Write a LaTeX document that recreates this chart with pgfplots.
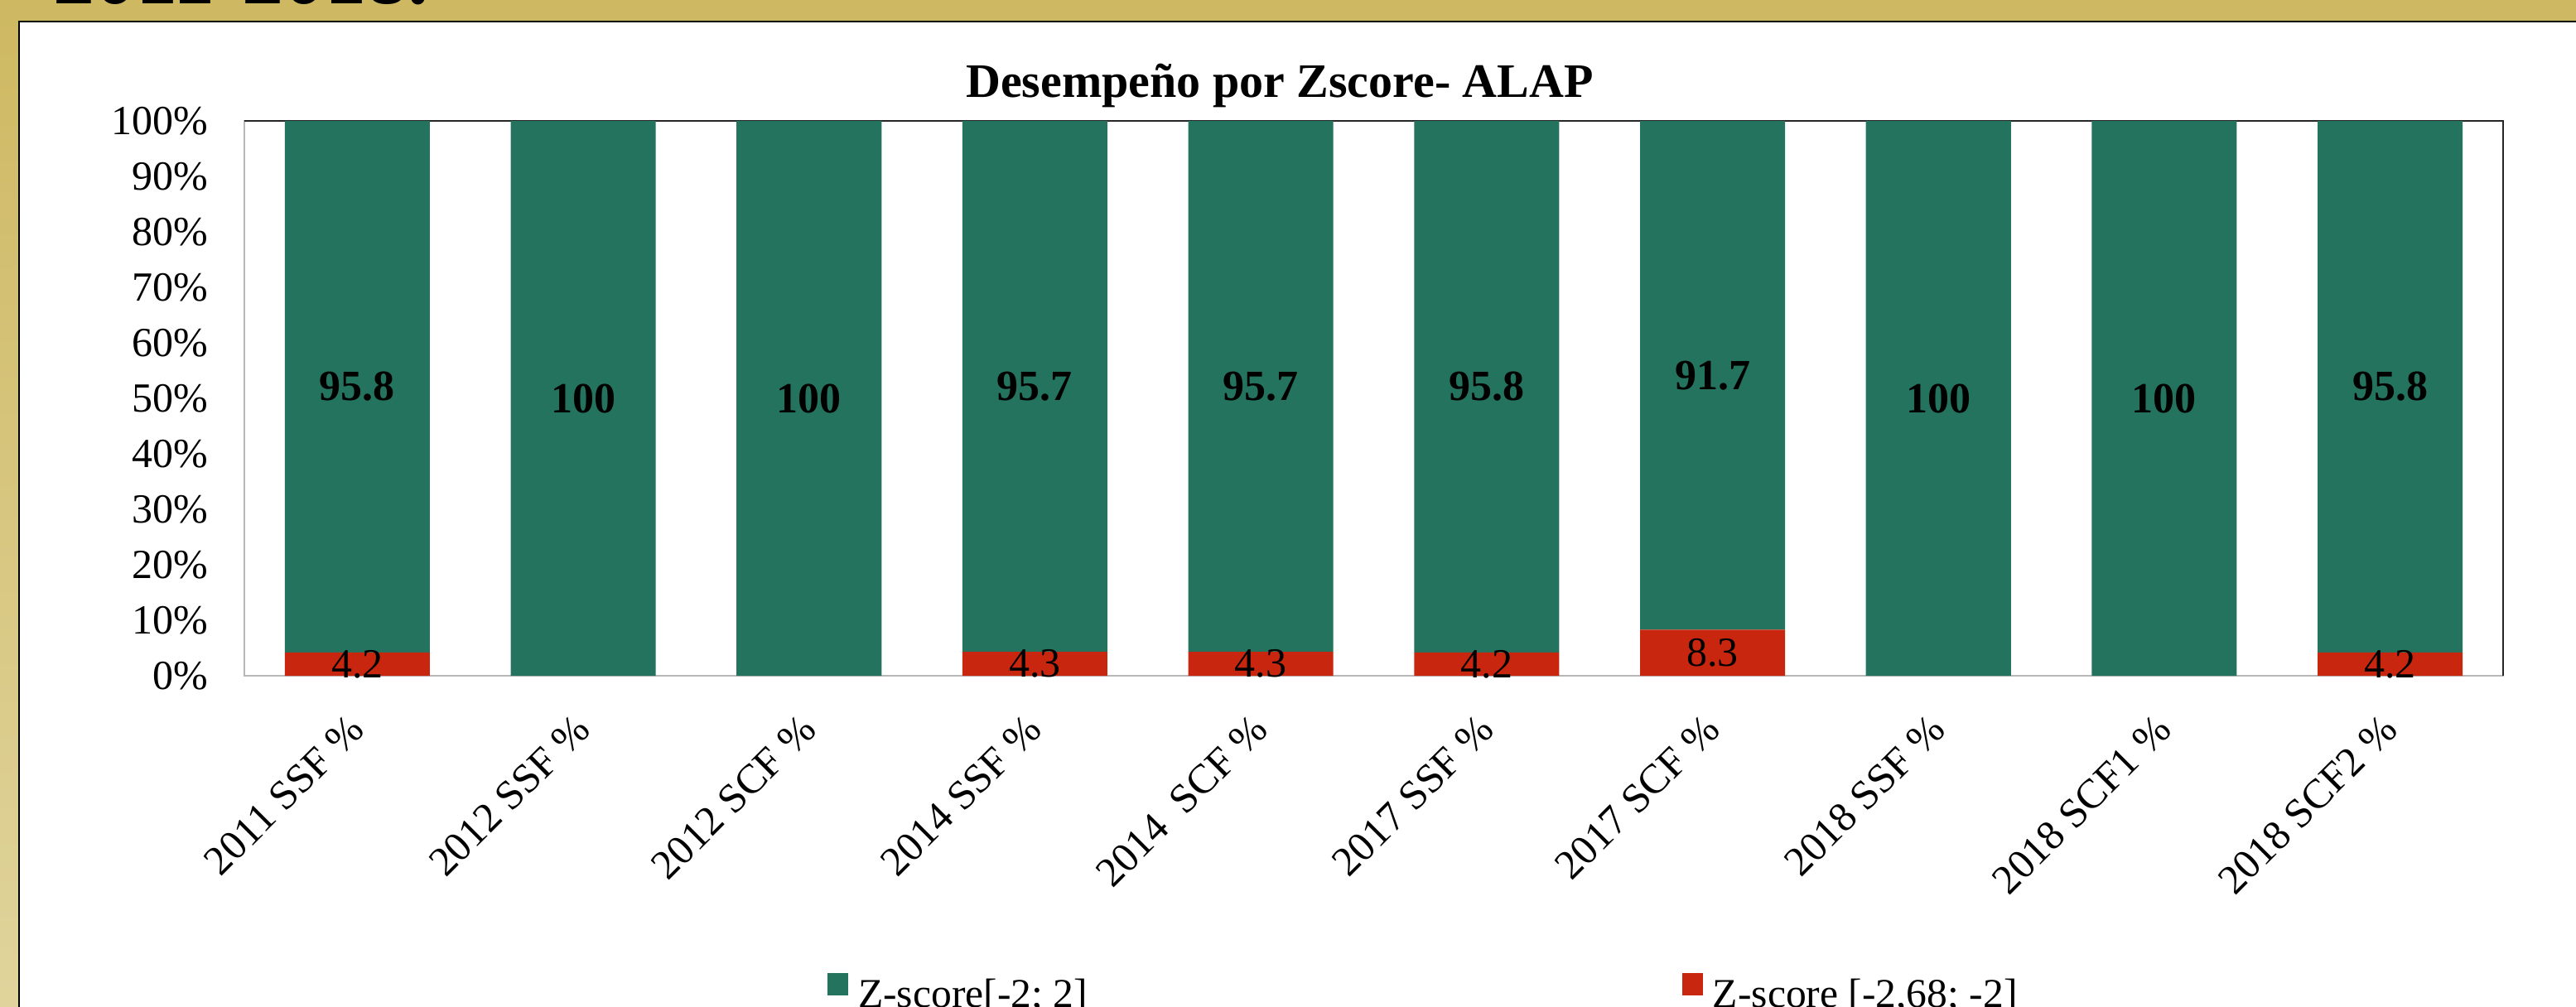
\documentclass[border=0pt]{standalone}
\usepackage{pgfplots}
\pgfplotsset{compat=1.18}
\usepackage{pgfplotstable}
\usepackage{fontspec}
\setmainfont{Liberation Serif}
\definecolor{zgreen}{HTML}{24735E}
\definecolor{zred}{HTML}{C8260E}
\definecolor{goldA}{HTML}{CEB862}
\definecolor{goldB}{HTML}{E0D49C}

\pgfplotstableread{
x red green
0 4.2 95.8
1 0 100
2 0 100
3 4.3 95.7
4 4.3 95.7
5 4.2 95.8
6 8.3 91.7
7 0 100
8 0 100
9 4.2 95.8
}\zdata

\begin{document}
\begin{tikzpicture}[x=1pt,y=1pt]
\useasboundingbox (0,0) rectangle (777.5,303.75);
\clip (0,0) rectangle (777.5,303.75);
\shade[top color=goldA, bottom color=goldB] (0,0) rectangle (777.5,303.75);
\fill[white] (5.75,-1) rectangle (778,297.25);
\draw[black, line width=0.5pt] (5.75,-1) -- (5.75,297.25) -- (778,297.25);
\node[font=\bfseries\fontsize{25}{30}\selectfont, anchor=base west, inner sep=0pt] at (16,302.75) {2011-2018.};
\node[font=\bfseries\fontsize{14.5}{17}\selectfont, anchor=base, inner sep=0pt] at (386.25,274.5) {Desempeño por Zscore- ALAP};
\begin{axis}[
  at={(73.75pt,99.75pt)}, anchor=south west, scale only axis,
  width=681.75pt, height=167.5pt,
  ybar stacked, bar width=0.642,
  clip=false,
  xmin=-0.5, xmax=9.5, ymin=0, ymax=100,
  xtick={0,...,9},
  xticklabels={2011 SSF \%, 2012 SSF \%, 2012 SCF \%, 2014 SSF \%, 2014\ \ SCF \%, 2017 SSF \%, 2017 SCF \%, 2018 SSF \%, 2018 SCF1 \%, 2018 SCF2 \%},
  ytick={0,10,...,100},
  yticklabel={\pgfmathprintnumber{\tick}\%},
  major tick length=0pt,
  axis line style={draw=black!28, line width=0.5pt},
  /pgf/number format/assume math mode=true,
  tick label style={font=\fontsize{12.5}{15}\selectfont, inner sep=0pt},
  yticklabel style={xshift=-10.75pt},
  xticklabel style={yshift=-14pt, anchor=east, rotate=45},
  legend columns=2,
  reverse legend,
  legend cell align=left,
  legend style={at={(axis description cs:0.2582,-0.6063)}, anchor=south west,
    draw=none, fill=none, inner sep=0pt, outer sep=0pt,
    font=\fontsize{12.4}{15}\selectfont, nodes={inner sep=0pt},
    /tikz/every odd column/.append style={column sep=3pt},
    /tikz/every even column/.append style={column sep=179.5pt}},
  legend image code/.code={\fill[#1] (0pt,0pt) rectangle (6.25pt,6.75pt);},
]
\addplot[fill=zred, draw=none,
  point meta=explicit,
  nodes near coords={\pgfmathfloatifflags{\pgfplotspointmeta}{0}{}{\pgfmathprintnumber{\pgfplotspointmeta}}},
  every node near coord/.append style={anchor=center, font=\fontsize{12.5}{15}\selectfont, text=black, inner sep=0pt}]
  table[x=x, y=red, meta=red] {\zdata};
\addlegendentry{Z-score [-2,68; -2]}
\addplot[fill=zgreen, draw=none,
  point meta=explicit,
  nodes near coords={\pgfmathfloatifflags{\pgfplotspointmeta}{0}{}{\pgfmathprintnumber{\pgfplotspointmeta}}},
  every node near coord/.append style={anchor=center, font=\bfseries\fontsize{13}{15}\selectfont, text=black, inner sep=0pt}]
  table[x=x, y=green, meta=green] {\zdata};
\addlegendentry{Z-score[-2; 2]}
\draw[black!85, line width=0.5pt] (rel axis cs:0,1) -- (rel axis cs:1,1) -- (rel axis cs:1,0);
\end{axis}
\end{tikzpicture}
\end{document}
